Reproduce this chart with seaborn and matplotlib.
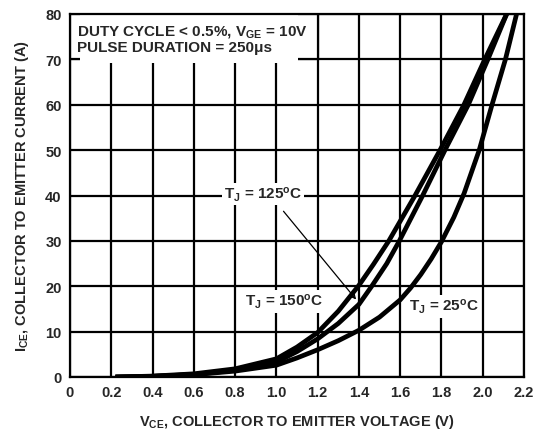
import numpy as np
import pandas as pd
import matplotlib
matplotlib.use("Agg")
import matplotlib.pyplot as plt
import seaborn as sns
from matplotlib.patches import Rectangle

# ── Data ───────────────────────────────────────────────────────────────────
v_150 = [0.22, 0.4, 0.6, 0.8, 1.0, 1.1, 1.2, 1.3, 1.4, 1.47, 1.545, 1.672, 1.793, 1.909, 2.01, 2.116]
i_150 = [0.0, 0.2, 0.7, 1.8, 4.0, 6.6, 9.8, 14.5, 20.2, 24.8, 30.0, 40.0, 50.0, 60.0, 70.0, 80.0]

v_125 = [0.22, 0.4, 0.6, 0.8, 1.0, 1.1, 1.2, 1.3, 1.4, 1.462, 1.535, 1.596, 1.709, 1.817, 1.93, 2.025, 2.116]
i_125 = [0.0, 0.15, 0.55, 1.5, 3.3, 5.6, 8.4, 11.8, 16.0, 20.0, 25.0, 30.0, 40.0, 50.0, 60.0, 70.0, 80.0]

v_25 = [0.22, 0.4, 0.6, 0.8, 1.0, 1.1, 1.2, 1.3, 1.4, 1.5, 1.6, 1.65, 1.7, 1.75, 1.8, 1.86, 1.91, 1.983, 2.045, 2.11, 2.164]
i_25 = [0.0, 0.15, 0.5, 1.3, 2.6, 4.2, 6.0, 8.0, 10.3, 13.2, 17.0, 19.6, 22.6, 26.0, 29.8, 35.2, 40.5, 50.0, 60.0, 70.0, 80.0]

x_ticks = [0, 0.2, 0.4, 0.6, 0.8, 1.0, 1.2, 1.4, 1.6, 1.8, 2.0, 2.2]
x_labels = ["0", "0.2", "0.4", "0.6", "0.8", "1.0", "1.2", "1.4", "1.6", "1.8", "2.0", "2.2"]
y_ticks = [0, 10, 20, 30, 40, 50, 60, 70, 80]

curves = pd.concat([
    pd.DataFrame({"vce": v_150, "ice": i_150, "tj": "150"}),
    pd.DataFrame({"vce": v_125, "ice": i_125, "tj": "125"}),
    pd.DataFrame({"vce": v_25, "ice": i_25, "tj": "25"}),
])

# ── Style ──────────────────────────────────────────────────────────────────
sns.set_style("white")
plt.rcParams["font.family"] = ["Liberation Sans", "DejaVu Sans"]
plt.rcParams["font.weight"] = "bold"
plt.rcParams["mathtext.fontset"] = "custom"
plt.rcParams["mathtext.rm"] = "Liberation Sans:bold"
plt.rcParams["mathtext.bf"] = "Liberation Sans:bold"
plt.rcParams["mathtext.it"] = "Liberation Sans:bold"

fig = plt.figure(figsize=(5.39, 4.35), dpi=100)
ax = fig.add_axes([70 / 539, 57 / 435, 454 / 539, 363 / 435])

for tj in ["150", "125", "25"]:
    sns.lineplot(data=curves[curves["tj"] == tj], x="vce", y="ice", ax=ax,
                 color="black", lw=3.4, sort=False, estimator=None, zorder=4,
                 solid_capstyle="butt", solid_joinstyle="round")

ax.set_xlim(0, 2.2)
ax.set_ylim(0, 80)
ax.set_xticks(x_ticks)
ax.set_xticklabels(x_labels)
ax.set_yticks(y_ticks)
ax.tick_params(length=0, labelsize=10.5, pad=6)
for lab in ax.get_xticklabels() + ax.get_yticklabels():
    lab.set_fontweight("bold")
ax.grid(True, color="black", lw=1.6)
ax.set_axisbelow(True)
for s in ax.spines.values():
    s.set_color("black")
    s.set_linewidth(1.6)

ax.set_xlabel(r"$\mathregular{V_{CE}}$, COLLECTOR TO EMITTER VOLTAGE (V)",
              fontsize=10.5, fontweight="bold", labelpad=9)
ax.set_ylabel(r"$\mathregular{I_{CE}}$, COLLECTOR TO EMITTER CURRENT (A)",
              fontsize=10.5, fontweight="bold", labelpad=10)

# condition box in the upper left corner
ax.add_patch(Rectangle((0.0, 70), 1.2, 10, facecolor="white", edgecolor="black",
                       lw=1.6, zorder=2))
ax.add_patch(Rectangle((0.05, 69.3), 1.055, 10.5, facecolor="white",
                       edgecolor="none", zorder=2.5))
ax.text(0.034, 76.2, r"DUTY CYCLE < 0.5%, $\mathregular{V_{GE}}$ = 10V",
        fontsize=11, fontweight="bold", va="center", ha="left", zorder=5)
ax.text(0.034, 72.8, "PULSE DURATION = 250\u03bcs",
        fontsize=11, fontweight="bold", va="center", ha="left", zorder=5)

box = dict(facecolor="white", edgecolor="none", pad=1.5)
ax.text(0.935, 40.3, r"T$\mathregular{_J}$ = 125$\mathregular{^o}$C", fontsize=11,
        fontweight="bold", ha="center", va="center", bbox=box, zorder=3)
ax.text(1.036, 16.7, r"T$\mathregular{_J}$ = 150$\mathregular{^o}$C", fontsize=11,
        fontweight="bold", ha="center", va="center", bbox=box, zorder=3)
ax.text(1.81, 15.6, r"T$\mathregular{_J}$ = 25$\mathregular{^o}$C", fontsize=11,
        fontweight="bold", ha="center", va="center", bbox=box, zorder=3)

ax.annotate("", xy=(1.395, 16.6), xytext=(1.026, 37.0),
            arrowprops=dict(arrowstyle="->", color="black", lw=0.9,
                            mutation_scale=8), zorder=5)

fig.savefig("out.png", dpi=100)
